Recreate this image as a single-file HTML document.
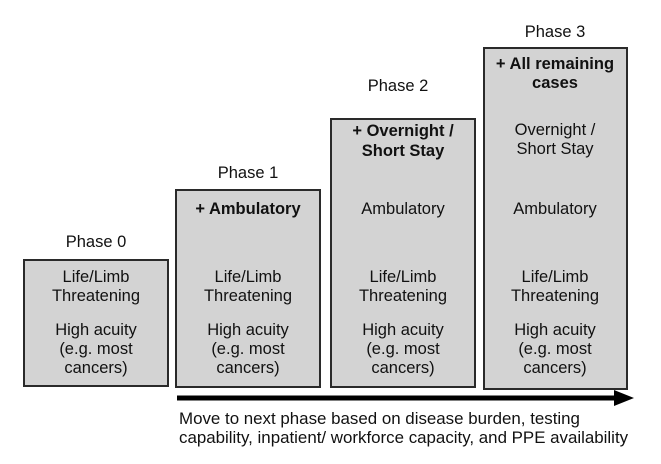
<!DOCTYPE html>
<html><head><style>
body{margin:0;width:661px;height:464px;background:#fff;position:relative;overflow:hidden;font-family:"Liberation Sans",Arial,sans-serif;color:#111;}
.b{position:absolute;background:#d3d3d3;border:2px solid #2a2a2a;box-sizing:border-box;}
.t{position:absolute;width:150px;text-align:center;font-size:16.5px;line-height:19px;white-space:nowrap;}
.bold{font-weight:bold;}
</style></head><body>
<div class="b" style="left:23px;top:259px;width:146px;height:128px"></div>
<div class="b" style="left:175px;top:189px;width:146px;height:199px"></div>
<div class="b" style="left:330px;top:118px;width:146px;height:270px"></div>
<div class="b" style="left:483px;top:47px;width:145px;height:343px"></div>

<div class="t" style="left:21px;top:233px">Phase 0</div>
<div class="t" style="left:173px;top:164px">Phase 1</div>
<div class="t" style="left:323px;top:77px">Phase 2</div>
<div class="t" style="left:480px;top:23px">Phase 3</div>

<div class="t" style="left:21px;top:268px">Life/Limb<br>Threatening</div>
<div class="t" style="left:21px;top:321px">High acuity<br>(e.g. most<br>cancers)</div>

<div class="t bold" style="left:173px;top:200px">+ Ambulatory</div>
<div class="t" style="left:173px;top:268px">Life/Limb<br>Threatening</div>
<div class="t" style="left:173px;top:321px">High acuity<br>(e.g. most<br>cancers)</div>

<div class="t bold" style="left:328px;top:121px;line-height:20px">+ Overnight /<br>Short Stay</div>
<div class="t" style="left:328px;top:200px">Ambulatory</div>
<div class="t" style="left:328px;top:268px">Life/Limb<br>Threatening</div>
<div class="t" style="left:328px;top:321px">High acuity<br>(e.g. most<br>cancers)</div>

<div class="t bold" style="left:480px;top:55px">+ All remaining<br>cases</div>
<div class="t" style="left:480px;top:121px">Overnight /<br>Short Stay</div>
<div class="t" style="left:480px;top:200px">Ambulatory</div>
<div class="t" style="left:480px;top:268px">Life/Limb<br>Threatening</div>
<div class="t" style="left:480px;top:321px">High acuity<br>(e.g. most<br>cancers)</div>

<svg style="position:absolute;left:0;top:0" width="661" height="464">
<line x1="177" y1="398" x2="618" y2="398" stroke="#000" stroke-width="5"/>
<polygon points="614,390 634,398 614,406" fill="#000"/>
</svg>
<div style="position:absolute;left:179px;top:409px;font-size:16.9px;line-height:19px;white-space:nowrap">Move to next phase based on disease burden, testing<br>capability, inpatient/ workforce capacity, and PPE availability</div>
</body></html>
